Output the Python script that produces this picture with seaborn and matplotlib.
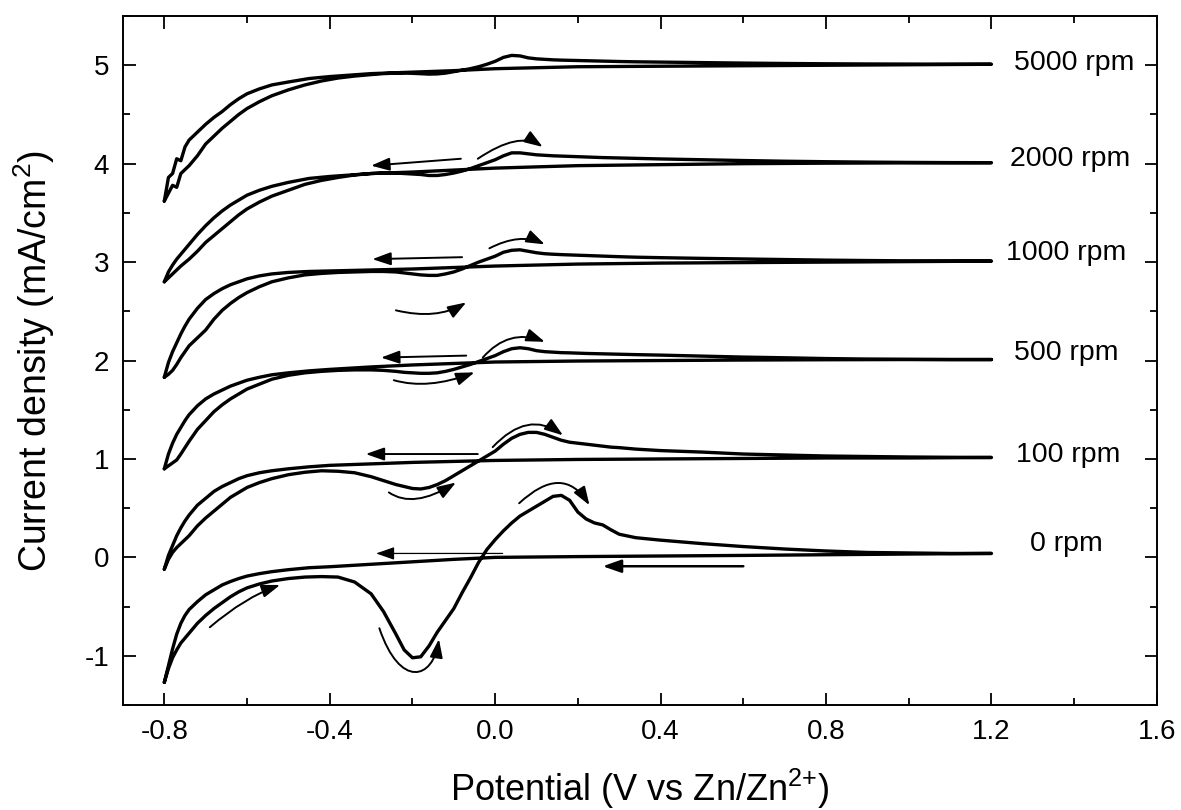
import matplotlib
matplotlib.use("Agg")
import matplotlib.pyplot as plt
from matplotlib.path import Path
from matplotlib.patches import FancyArrowPatch
from matplotlib.ticker import MultipleLocator
import numpy as np
import pandas as pd
import seaborn as sns

# Potential grids (V vs Zn/Zn2+): forward (anodic) sweep and return sweep
pot_fwd = [-0.80, -0.79, -0.78, -0.77, -0.76, -0.74, -0.72, -0.70, -0.68, -0.66,
           -0.64, -0.62, -0.60, -0.57, -0.54, -0.50, -0.46, -0.42, -0.38, -0.34,
           -0.30, -0.27, -0.24, -0.22, -0.20, -0.18, -0.16, -0.14, -0.12, -0.10,
           -0.08, -0.06, -0.04, -0.02, 0.00, 0.02, 0.04, 0.06, 0.08, 0.10,
           0.12, 0.14, 0.16, 0.18, 0.20, 0.22, 0.24, 0.26, 0.28, 0.30,
           0.34, 0.40, 0.50, 0.60, 0.70, 0.80, 0.90, 1.00, 1.10, 1.20]
pot_rev = [-0.80, -0.79, -0.78, -0.77, -0.76, -0.75, -0.74, -0.72, -0.70, -0.68,
           -0.66, -0.64, -0.62, -0.60, -0.57, -0.54, -0.50, -0.45, -0.40, -0.30,
           -0.20, -0.10, 0.00, 0.20, 0.40, 0.60, 0.80, 1.00, 1.20]

rpm_labels = ["0 rpm", "100 rpm", "500 rpm", "1000 rpm", "2000 rpm", "5000 rpm"]

# Current density (mA/cm2), each curve offset by 1 for clarity
j_fwd_0 = [-1.27, -1.13, -1.02, -0.94, -0.87, -0.77, -0.67, -0.59, -0.52, -0.46,
           -0.40, -0.35, -0.31, -0.27, -0.24, -0.215, -0.20, -0.195, -0.20, -0.25,
           -0.37, -0.55, -0.78, -0.94, -1.02, -1.01, -0.90, -0.76, -0.64, -0.52,
           -0.36, -0.21, -0.05, 0.08, 0.18, 0.27, 0.35, 0.42, 0.47, 0.52,
           0.57, 0.62, 0.63, 0.58, 0.46, 0.39, 0.35, 0.33, 0.28, 0.235,
           0.20, 0.175, 0.14, 0.11, 0.085, 0.065, 0.05, 0.045, 0.04, 0.04]
j_rev_0 = [-1.27, -1.10, -0.93, -0.78, -0.67, -0.59, -0.53, -0.45, -0.38, -0.33,
           -0.28, -0.245, -0.215, -0.19, -0.165, -0.145, -0.125, -0.105, -0.095, -0.07,
           -0.045, -0.02, 0.00, 0.008, 0.014, 0.02, 0.027, 0.034, 0.04]

j_fwd_100 = [-0.12, -0.02, 0.05, 0.10, 0.14, 0.22, 0.32, 0.40, 0.47, 0.54,
             0.61, 0.66, 0.71, 0.76, 0.80, 0.84, 0.865, 0.88, 0.875, 0.86,
             0.82, 0.78, 0.74, 0.72, 0.70, 0.695, 0.71, 0.74, 0.78, 0.83,
             0.88, 0.93, 0.98, 1.03, 1.08, 1.15, 1.21, 1.25, 1.27, 1.27,
             1.25, 1.22, 1.19, 1.17, 1.16, 1.15, 1.14, 1.13, 1.12, 1.115,
             1.10, 1.085, 1.07, 1.05, 1.04, 1.03, 1.025, 1.02, 1.017, 1.015]
j_rev_100 = [-0.12, 0.02, 0.12, 0.22, 0.30, 0.37, 0.43, 0.53, 0.60, 0.67,
             0.72, 0.76, 0.80, 0.83, 0.86, 0.88, 0.90, 0.92, 0.935, 0.95,
             0.965, 0.975, 0.985, 0.995, 1.00, 1.005, 1.01, 1.01, 1.015]

j_fwd_500 = [0.90, 0.93, 0.96, 0.99, 1.05, 1.18, 1.30, 1.39, 1.48, 1.55,
             1.61, 1.66, 1.71, 1.76, 1.81, 1.85, 1.875, 1.89, 1.90, 1.905,
             1.905, 1.90, 1.89, 1.88, 1.875, 1.87, 1.87, 1.875, 1.89, 1.91,
             1.935, 1.96, 1.99, 2.02, 2.05, 2.09, 2.12, 2.13, 2.12, 2.10,
             2.09, 2.085, 2.08, 2.078, 2.075, 2.072, 2.07, 2.068, 2.066, 2.064,
             2.06, 2.055, 2.045, 2.035, 2.028, 2.02, 2.015, 2.012, 2.01, 2.01]
j_rev_500 = [0.90, 1.05, 1.16, 1.25, 1.32, 1.39, 1.45, 1.54, 1.61, 1.66,
             1.70, 1.74, 1.77, 1.80, 1.83, 1.855, 1.875, 1.895, 1.91, 1.935,
             1.955, 1.97, 1.985, 1.995, 2.00, 2.005, 2.008, 2.01, 2.01]

j_fwd_1000 = [1.83, 1.86, 1.90, 1.96, 2.03, 2.15, 2.23, 2.31, 2.42, 2.51,
              2.58, 2.64, 2.69, 2.75, 2.80, 2.84, 2.87, 2.885, 2.895, 2.90,
              2.905, 2.905, 2.90, 2.89, 2.88, 2.87, 2.865, 2.865, 2.88, 2.90,
              2.93, 2.965, 3.00, 3.03, 3.06, 3.10, 3.12, 3.125, 3.11, 3.095,
              3.085, 3.08, 3.076, 3.073, 3.07, 3.067, 3.064, 3.061, 3.058, 3.055,
              3.05, 3.045, 3.038, 3.032, 3.026, 3.02, 3.016, 3.013, 3.011, 3.01]
j_rev_1000 = [1.83, 1.98, 2.09, 2.18, 2.27, 2.35, 2.42, 2.53, 2.62, 2.68,
              2.73, 2.77, 2.80, 2.83, 2.86, 2.88, 2.895, 2.905, 2.91, 2.92,
              2.93, 2.945, 2.96, 2.98, 2.99, 2.995, 3.00, 3.005, 3.01]

j_fwd_2000 = [2.80, 2.84, 2.88, 2.92, 2.96, 3.03, 3.11, 3.20, 3.27, 3.34,
              3.41, 3.48, 3.54, 3.61, 3.67, 3.73, 3.79, 3.83, 3.86, 3.885,
              3.90, 3.905, 3.905, 3.90, 3.895, 3.89, 3.88, 3.88, 3.89, 3.905,
              3.925, 3.95, 3.98, 4.01, 4.04, 4.08, 4.11, 4.11, 4.10, 4.09,
              4.085, 4.08, 4.077, 4.074, 4.071, 4.068, 4.065, 4.062, 4.06, 4.058,
              4.054, 4.048, 4.04, 4.032, 4.025, 4.02, 4.016, 4.013, 4.011, 4.01]
j_rev_2000 = [2.80, 2.90, 2.97, 3.03, 3.08, 3.13, 3.18, 3.28, 3.37, 3.45,
              3.52, 3.58, 3.63, 3.68, 3.73, 3.77, 3.81, 3.85, 3.87, 3.90,
              3.915, 3.935, 3.955, 3.98, 3.99, 4.00, 4.005, 4.008, 4.01]

j_fwd_5000 = [3.62, 3.70, 3.78, 3.76, 3.90, 3.98, 4.08, 4.20, 4.28, 4.36,
              4.43, 4.50, 4.56, 4.63, 4.69, 4.75, 4.80, 4.84, 4.87, 4.89,
              4.905, 4.915, 4.92, 4.92, 4.918, 4.914, 4.91, 4.912, 4.92, 4.935,
              4.95, 4.965, 4.985, 5.01, 5.04, 5.08, 5.10, 5.095, 5.075, 5.065,
              5.06, 5.055, 5.052, 5.05, 5.048, 5.046, 5.044, 5.042, 5.04, 5.038,
              5.035, 5.032, 5.027, 5.022, 5.018, 5.015, 5.013, 5.012, 5.011, 5.01]
j_rev_5000 = [3.62, 3.86, 3.90, 4.05, 4.03, 4.17, 4.24, 4.32, 4.40, 4.47,
              4.53, 4.60, 4.66, 4.71, 4.76, 4.80, 4.83, 4.865, 4.885, 4.915,
              4.93, 4.945, 4.965, 4.985, 4.99, 4.995, 5.00, 5.005, 5.01]

fwd_curves = [j_fwd_0, j_fwd_100, j_fwd_500, j_fwd_1000, j_fwd_2000, j_fwd_5000]
rev_curves = [j_rev_0, j_rev_100, j_rev_500, j_rev_1000, j_rev_2000, j_rev_5000]

# One closed loop per rotation rate: forward sweep, then the return sweep
frames = []
for label, jf, jr in zip(rpm_labels, fwd_curves, rev_curves):
    x = list(pot_fwd) + list(pot_rev[::-1])
    y = list(jf) + list(jr[::-1])
    frames.append(pd.DataFrame({"potential": x, "current": y, "rpm": label,
                                "order": np.arange(len(x))}))
df = pd.concat(frames, ignore_index=True)

sns.set_theme(style="ticks")
plt.rcParams["font.family"] = ["Liberation Sans", "DejaVu Sans"]
plt.rcParams["mathtext.fontset"] = "custom"
plt.rcParams["mathtext.rm"] = "Liberation Sans"
plt.rcParams["mathtext.default"] = "regular"
plt.rcParams["axes.unicode_minus"] = False
plt.rcParams["text.color"] = "black"
plt.rcParams["axes.labelcolor"] = "black"

fig = plt.figure(figsize=(11.81, 8.10), dpi=100)
ax = fig.add_axes([0.1041, 0.1296, 0.8755, 0.8506])

for label in rpm_labels:
    sub = df[df["rpm"] == label]
    sns.lineplot(data=sub, x="potential", y="current", sort=False, estimator=None,
                 color="black", lw=2.4, ax=ax, legend=False)
for ln in ax.lines:
    ln.set_solid_joinstyle("round")
    ln.set_solid_capstyle("round")

ax.set_xlim(-0.9, 1.6)
ax.set_ylim(-1.5, 5.5)
xt = np.round(np.arange(-0.8, 1.61, 0.4), 1)
ax.set_xticks(xt)
ax.set_xticklabels([f"{v:.1f}" if v != 0 else "0.0" for v in xt])
ax.xaxis.set_minor_locator(MultipleLocator(0.2))
ax.yaxis.set_major_locator(MultipleLocator(1))
ax.yaxis.set_minor_locator(MultipleLocator(0.5))
ax.tick_params(which="both", direction="in", top=True, right=True, width=1.3,
               colors="black", labelsize=20, pad=10)
ax.tick_params(which="major", length=9)
ax.tick_params(which="minor", length=5)
for s in ax.spines.values():
    s.set_linewidth(1.4)
    s.set_color("black")

ax.set_xlabel("Potential (V vs Zn/Zn$^{2{+}}$)", fontsize=26, labelpad=16, color="black")
ax.set_ylabel("Current density (mA/cm$^{2}$)", fontsize=27, color="black")
ax.yaxis.set_label_coords(-0.064, 0.50)

# Rotation-rate labels at the right end of each curve
label_pos = [(1.38, 0.14), (1.385, 1.04), (1.38, 2.08), (1.38, 3.09), (1.39, 4.05), (1.40, 5.02)]
for text, (lx, ly) in zip(rpm_labels, label_pos):
    ax.text(lx, ly, text, fontsize=20.5, ha="center", va="center", color="black")

head = "-|>,head_length=0.8,head_width=0.28"

def straight(tail, tip, lw=1.4):
    ax.annotate("", xy=tip, xytext=tail,
                arrowprops=dict(arrowstyle=head, lw=lw, color="black",
                                mutation_scale=14, shrinkA=0, shrinkB=0))

def curved(points, lw=1.4):
    codes = [Path.MOVETO] + [Path.CURVE3 if len(points) == 3 else Path.CURVE4] * (len(points) - 1)
    arr = FancyArrowPatch(path=Path(points, codes), arrowstyle=head, lw=lw,
                          color="black", mutation_scale=14)
    ax.add_patch(arr)

# Sweep-direction arrows
straight((-0.083, 4.05), (-0.30, 3.98))
straight((-0.08, 3.05), (-0.297, 3.03))
straight((-0.07, 2.05), (-0.276, 2.03))
straight((-0.042, 1.05), (-0.313, 1.05))
straight((0.018, 0.04), (-0.288, 0.04), lw=0.9)
straight((0.60, -0.09), (0.26, -0.09), lw=1.8)

curved([(-0.69, -0.71), (-0.605, -0.405), (-0.52, -0.28)])
curved([(-0.28, -0.72), (-0.23, -1.34), (-0.15, -1.24), (-0.136, -0.83)])
curved([(0.058, 0.55), (0.163, 0.96), (0.228, 0.53)])
curved([(-0.257, 0.66), (-0.198, 0.49), (-0.095, 0.76)])
curved([(-0.006, 1.12), (0.079, 1.50), (0.164, 1.24)])
curved([(-0.245, 1.80), (-0.1625, 1.70), (-0.05, 1.88)])
curved([(-0.24, 2.51), (-0.141, 2.41), (-0.07, 2.59)])
curved([(-0.03, 2.03), (0.033, 2.33), (0.12, 2.19)])
curved([(-0.014, 3.14), (0.06, 3.30), (0.12, 3.18)])
curved([(-0.042, 4.05), (0.057, 4.33), (0.115, 4.17)])

fig.savefig("out.png", dpi=100, facecolor="white")
